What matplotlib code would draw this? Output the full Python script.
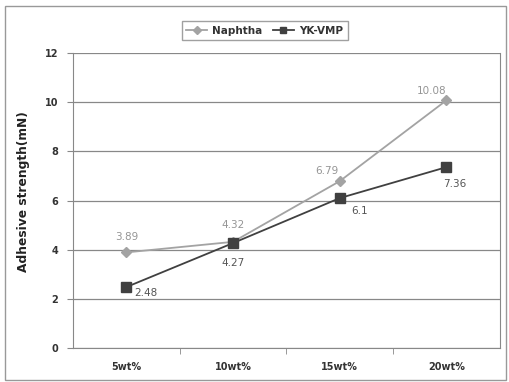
import numpy as np
import matplotlib
matplotlib.use("Agg")
import matplotlib.pyplot as plt
from matplotlib.patches import Rectangle

# data
categories = ["5wt%", "10wt%", "15wt%", "20wt%"]
naphtha = [3.89, 4.32, 6.79, 10.08]
ykvmp = [2.48, 4.27, 6.1, 7.36]

fig = plt.figure(figsize=(5.09, 3.82), dpi=100)
ax = fig.add_axes([0.1434, 0.089, 0.8386, 0.772])
x = np.arange(len(categories))

c_n = "#a3a3a3"
c_y = "#404040"
ax.plot(x, naphtha, color=c_n, lw=1.3, marker="D", ms=5.5, label="Naphtha", zorder=3)
ax.plot(x, ykvmp, color=c_y, lw=1.3, marker="s", ms=7, label="YK-VMP", zorder=3)

# data labels
offs_n = [(0, 11), (0, 12), (-9, 7), (-11, 7)]
offs_y = [(14, -4), (0, -14), (14, -9), (6, -12)]
for i, v in enumerate(naphtha):
    ax.annotate(f"{v:g}", (x[i], v), xytext=offs_n[i], textcoords="offset points",
                ha="center", va="center", fontsize=7.5, color="#959595")
for i, v in enumerate(ykvmp):
    ax.annotate(f"{v:g}", (x[i], v), xytext=offs_y[i], textcoords="offset points",
                ha="center", va="center", fontsize=7.5, color="#555555")

ax.set_xlim(-0.5, 3.5)
ax.set_ylim(0, 12)
ax.set_yticks(range(0, 13, 2))
ax.set_xticks(x)
ax.set_xticklabels(categories)
ax.set_xticks([0.5, 1.5, 2.5], minor=True)
ax.tick_params(axis="x", which="major", length=0, pad=10)
ax.tick_params(axis="x", which="minor", length=4, color="#888888")
ax.tick_params(axis="y", length=4.5, color="#888888", pad=6)
for lab in ax.get_xticklabels() + ax.get_yticklabels():
    lab.set_fontsize(7)
    lab.set_fontweight("bold")
    lab.set_color("#333333")
ax.grid(axis="y", color="#888888", lw=0.9)
ax.set_axisbelow(True)
for s in ax.spines.values():
    s.set_color("#888888")
ax.spines["top"].set_visible(False)
ax.set_ylabel("Adhesive strength(mN)", fontsize=8.8, fontweight="bold", color="#222222", labelpad=6)
ax.yaxis.set_label_coords(-0.1, 0.53)

leg = fig.legend(loc="center", bbox_to_anchor=(0.52, 0.92), ncol=2, fontsize=7.5,
                 frameon=True, fancybox=False, edgecolor="#888888", handlelength=2.0,
                 columnspacing=1.0, borderpad=0.45, markerscale=0.7, handletextpad=0.5)
for t in leg.get_texts():
    t.set_fontweight("bold")
    t.set_color("#333333")

# outer frame
fig.patches.append(Rectangle((0.01, 0.005), 0.985, 0.978, transform=fig.transFigure,
                             fill=False, edgecolor="#999999", lw=1.0))

fig.savefig("out.png", dpi=100)
